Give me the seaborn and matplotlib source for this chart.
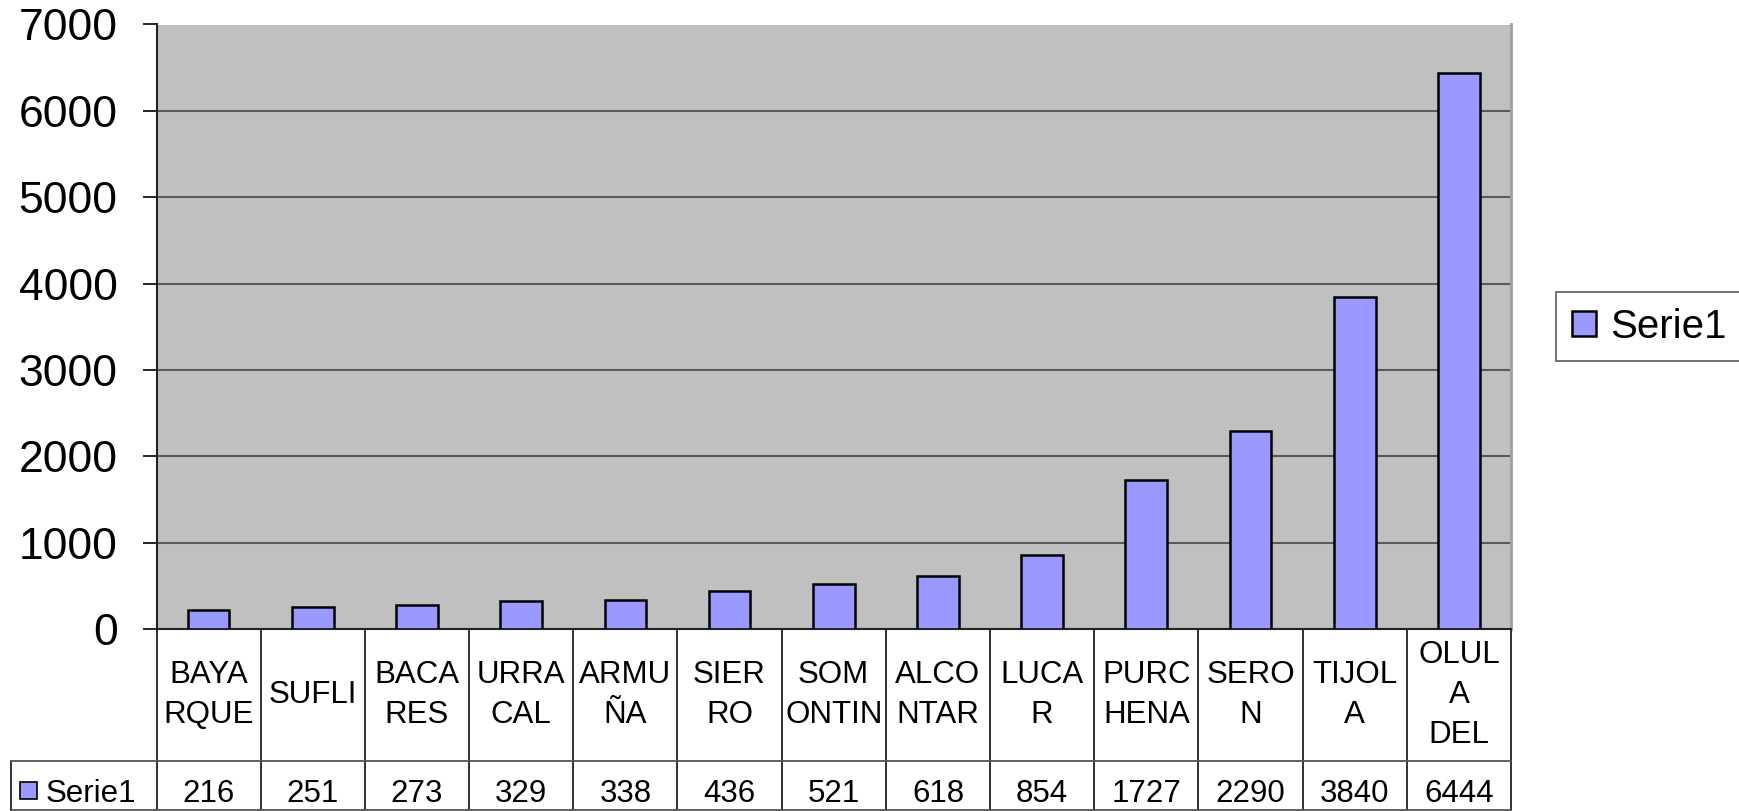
import matplotlib
matplotlib.use("Agg")
import matplotlib.pyplot as plt
import seaborn as sns
import pandas as pd

categories = ["BAYARQUE", "SUFLI", "BACARES", "URRACAL", "ARMUÑA", "SIERRO",
              "SOMONTIN", "ALCONTAR", "LUCAR", "PURCHENA", "SERON", "TIJOLA", "OLULA DEL"]
table_labels = ["BAYA\nRQUE", "SUFLI", "BACA\nRES", "URRA\nCAL", "ARMU\nÑA", "SIER\nRO",
                "SOM\nONTIN", "ALCO\nNTAR", "LUCA\nR", "PURC\nHENA", "SERO\nN", "TIJOL\nA",
                "OLUL\nA\nDEL"]
values = [216, 251, 273, 329, 338, 436, 521, 618, 854, 1727, 2290, 3840, 6444]
series_name = "Serie1"
y_ticks = [0, 1000, 2000, 3000, 4000, 5000, 6000, 7000]

sns.set_style("white")
plt.rcParams["font.family"] = ["Liberation Sans", "DejaVu Sans"]
plt.rcParams["text.color"] = "black"
plt.rcParams["legend.labelcolor"] = "black"
table_size = 22.5

W, H = 1740, 811
fig = plt.figure(figsize=(W / 100, H / 100), dpi=100)
fig.patch.set_facecolor("white")

left_px, right_px, top_px, zero_px = 156.5, 1511, 24.5, 629
ax = fig.add_axes([left_px / W, (H - zero_px) / H, (right_px - left_px) / W, (zero_px - top_px) / H])
ax.set_facecolor("#C0C0C0")

df = pd.DataFrame({"cat": categories, "val": values})
sns.barplot(data=df, x="cat", y="val", color="#9999FF", saturation=1, edgecolor="black",
            linewidth=1.8, width=0.4, ax=ax, label=series_name, zorder=3)

ax.set_xlim(-0.5, len(categories) - 0.5)
ax.set_ylim(0, 7000)
ax.set_yticks(y_ticks)
ax.set_yticklabels([str(v) for v in y_ticks], fontsize=32)
ax.set_xticks([])
ax.set_xlabel("")
ax.set_ylabel("")
ax.tick_params(axis="y", direction="out", length=10, width=1.2, pad=18, colors="black", left=True)
ax.yaxis.grid(True, color="#5A5A5A", linewidth=1.5, zorder=1)
ax.set_axisbelow(True)
ax.spines["top"].set_visible(False)
ax.spines["left"].set_color("#222222")
ax.spines["left"].set_linewidth(1.5)
ax.spines["right"].set_color("#A0A0A0")
ax.spines["right"].set_linewidth(2)
ax.spines["bottom"].set_color("#222222")
ax.spines["bottom"].set_linewidth(1.5)

# legend
handles, labels = ax.get_legend_handles_labels()
leg = ax.legend(handles, labels, loc="center", bbox_to_anchor=(1649 / W, (H - 326.5) / H),
                bbox_transform=fig.transFigure, fontsize=29, frameon=True, fancybox=False,
                handlelength=0.6, handleheight=0.6, handletextpad=0.35, borderpad=0.38,
                borderaxespad=0, labelcolor="black")
leg.get_frame().set_edgecolor("#333333")
leg.get_frame().set_linewidth(1.2)

# data table beneath the plot
tab = fig.add_axes([left_px / W, 0, (right_px - left_px) / W, (H - zero_px) / H])
tab.set_xlim(-0.5, len(categories) - 0.5)
tab.set_ylim(0, H - zero_px)
tab.axis("off")
col_w_px = (right_px - left_px) / len(categories)
label_left = -0.5 - (left_px - 11) / col_w_px
row_div = H - 760.5
bottom = 1
top = H - zero_px
lc = "#222222"
for k in range(len(categories) + 1):
    tab.plot([k - 0.5, k - 0.5], [bottom, top], color=lc, lw=1.3, clip_on=False)
tab.plot([label_left, label_left], [bottom, row_div], color=lc, lw=1.3, clip_on=False)
tab.plot([label_left, len(categories) - 0.5], [row_div, row_div], color="#555555", lw=1.3, clip_on=False)
tab.plot([label_left, len(categories) - 0.5], [bottom, bottom], color="#555555", lw=1.3, clip_on=False)

for i, (lab, v) in enumerate(zip(table_labels, values)):
    tab.text(i, H - 695, lab, ha="center", va="center", fontsize=table_size,
             linespacing=1.42, color="black", clip_on=False)
    tab.text(i, H - 790, str(v), ha="center", va="center_baseline", fontsize=table_size,
             color="black", clip_on=False)

key_x0 = label_left + (20 - 11) / col_w_px
key_w = 17 / col_w_px
tab.add_patch(plt.Rectangle((key_x0, 12), key_w, 17, facecolor="#9999FF", edgecolor="black",
                            lw=1.2, clip_on=False))
tab.text(label_left + (46 - 11) / col_w_px, H - 790, series_name, ha="left", va="center_baseline",
         fontsize=table_size, color="black", clip_on=False)

fig.savefig("out.png", dpi=100, facecolor="white")
